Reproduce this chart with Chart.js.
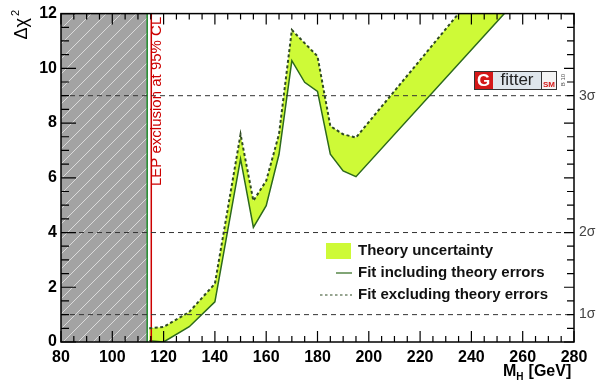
<!DOCTYPE html>
<html>
<head>
<meta charset="utf-8">
<script src="https://cdn.jsdelivr.net/npm/chart.js@4.4.1/dist/chart.umd.min.js"></script>
<style>
  html, body { margin: 0; padding: 0; background: #fff; }
  #wrap { width: 598px; height: 387px; position: relative; }
</style>
</head>
<body>
<div id="wrap"><canvas id="myChart"></canvas></div>
<script>
// M_H values (GeV) and delta chi2
const massPoints = [114.4, 120, 130, 140, 150, 155, 160, 165, 170, 175, 180, 185, 190, 195, 280];
const chi2WithTheory = [0.05, 0.0, 0.56, 1.47, 6.69, 4.19, 4.98, 6.86, 10.28, 9.49, 9.16, 6.86, 6.25, 6.04, 14.8];
const chi2NoTheory = [0.5, 0.55, 1.1, 2.13, 7.59, 5.16, 5.89, 7.6, 11.4, 10.92, 10.44, 7.89, 7.59, 7.47, 17.1];

const sigmaLevels = [1, 4, 9];
const sigmaLabels = ["1\u03c3", "2\u03c3", "3\u03c3"];
const lepLimit = 114.4;
const lepLineX = 115.2;
const excludedRange = [80, 113.6];
const xTicks = [80, 100, 120, 140, 160, 180, 200, 220, 240, 260, 280];
const yTicks = [0, 2, 4, 6, 8, 10, 12];

const bandColor = "rgb(206,250,55)";
const fitGreen = "#2d6a1c";
const dotColor = "#2f4a22";

// hatch pattern for the excluded region
function makeHatch() {
  const s = 15;
  const c = document.createElement("canvas");
  c.width = s; c.height = s;
  const g = c.getContext("2d");
  g.fillStyle = "#a3a3a3";
  g.fillRect(0, 0, s, s);
  g.strokeStyle = "rgba(225,225,225,0.9)";
  g.lineWidth = 1;
  g.beginPath();
  g.moveTo(0, s); g.lineTo(s, 0);
  g.moveTo(-1, 1); g.lineTo(1, -1);
  g.moveTo(s - 1, s + 1); g.lineTo(s + 1, s - 1);
  g.stroke();
  return g.createPattern(c, "repeat");
}

function pts(xs, ys) {
  return xs.map((x, i) => ({ x: x, y: ys[i] }));
}

const datasets = [];
sigmaLevels.forEach((lvl) => {
  datasets.push({
    data: [{ x: 80, y: lvl }, { x: 280, y: lvl }],
    borderColor: "#333",
    borderWidth: 1,
    borderDash: [5, 4],
    pointRadius: 0,
    fill: false,
    order: 1,
  });
});
// fit including theory errors, band filled up to the next dataset
datasets.push({
  data: pts(massPoints, chi2WithTheory),
  borderColor: fitGreen,
  borderWidth: 1.5,
  pointRadius: 0,
  fill: { target: "+1", above: bandColor, below: bandColor },
  order: 3,
  clip: 0,
});
datasets.push({
  data: pts(massPoints, chi2NoTheory),
  borderColor: dotColor,
  borderWidth: 2,
  borderDash: [3, 2.5],
  pointRadius: 0,
  fill: false,
  order: 2,
  clip: 0,
});
// green steep wall and red LEP line
datasets.push({
  data: [{ x: excludedRange[1], y: 0 }, { x: excludedRange[1], y: 12 }],
  borderColor: "#1e8a2a",
  borderWidth: 1.5,
  pointRadius: 0,
  fill: false,
  order: 2,
});
datasets.push({
  data: [{ x: lepLineX, y: 0 }, { x: lepLineX, y: 12 }],
  borderColor: "#cc0000",
  borderWidth: 1.5,
  pointRadius: 0,
  fill: false,
  order: 2,
});
datasets.push({
  data: [{ x: excludedRange[0], y: 12 }, { x: excludedRange[1], y: 12 }],
  borderWidth: 0,
  pointRadius: 0,
  backgroundColor: makeHatch(),
  fill: "origin",
  order: 10,
});

const decor = {
  id: "decor",
  afterDraw(chart) {
    const ctx = chart.ctx;
    const a = chart.chartArea;
    const xs = chart.scales.x, ys = chart.scales.y;
    const fam = "'Liberation Sans', Arial, sans-serif";
    ctx.save();
    // frame
    ctx.strokeStyle = "#000";
    ctx.lineWidth = 1.5;
    ctx.strokeRect(a.left, a.top, a.right - a.left, a.bottom - a.top);
    // ticks, pointing inwards
    ctx.lineWidth = 1.2;
    ctx.beginPath();
    for (let v = 80; v <= 280; v += 5) {
      const px = xs.getPixelForValue(v);
      const major = v % 20 === 0;
      const l = major ? 11 : 6;
      ctx.moveTo(px, a.bottom); ctx.lineTo(px, a.bottom - l);
      ctx.moveTo(px, a.top); ctx.lineTo(px, a.top + l);
    }
    for (let v = 0; v <= 12; v += 0.5) {
      const py = ys.getPixelForValue(v);
      const major = v % 2 === 0;
      ctx.moveTo(a.left, py); ctx.lineTo(a.left + (major ? 15 : 8), py);
      ctx.moveTo(a.right, py); ctx.lineTo(a.right - (major ? 10 : 7), py);
    }
    ctx.stroke();

    // sigma labels
    ctx.fillStyle = "#444";
    ctx.font = "14px " + fam;
    ctx.textAlign = "left";
    ctx.textBaseline = "middle";
    sigmaLevels.forEach((lvl, i) => {
      ctx.fillText(sigmaLabels[i], a.right + 5, ys.getPixelForValue(lvl));
    });

    // x title: M_H [GeV]
    ctx.fillStyle = "#000";
    ctx.textAlign = "left";
    ctx.textBaseline = "alphabetic";
    let tx = 503;
    ctx.font = "bold 16px " + fam;
    ctx.fillText("M", tx, 376);
    tx += ctx.measureText("M").width;
    ctx.font = "bold 10px " + fam;
    ctx.fillText("H", tx, 380);
    tx += ctx.measureText("H").width + 5;
    ctx.font = "bold 16px " + fam;
    ctx.fillText("[GeV]", tx, 376);

    // y title
    ctx.save();
    ctx.translate(27, 9);
    ctx.rotate(-Math.PI / 2);
    ctx.textAlign = "right";
    ctx.textBaseline = "alphabetic";
    ctx.font = "18px " + fam;
    ctx.fillText("\u0394\u03c7", -9, 0);
    ctx.font = "11px " + fam;
    ctx.fillText("2", -1, -8);
    ctx.restore();

    // LEP text
    ctx.save();
    ctx.translate(xs.getPixelForValue(lepLineX) + 6, 186);
    ctx.rotate(-Math.PI / 2);
    ctx.fillStyle = "#cc0000";
    ctx.font = "15px " + fam;
    ctx.textAlign = "left";
    ctx.textBaseline = "middle";
    ctx.fillText("LEP exclusion at 95% CL", 0, 0);
    ctx.restore();

    // legend
    ctx.fillStyle = bandColor;
    ctx.fillRect(326, 243, 25, 16);
    ctx.strokeStyle = fitGreen;
    ctx.lineWidth = 1.2;
    ctx.beginPath();
    ctx.moveTo(336, 273); ctx.lineTo(352, 273);
    ctx.stroke();
    ctx.strokeStyle = dotColor;
    ctx.setLineDash([2.5, 2.5]);
    ctx.beginPath();
    ctx.moveTo(320, 295); ctx.lineTo(352, 295);
    ctx.stroke();
    ctx.setLineDash([]);
    ctx.fillStyle = "#111";
    ctx.font = "bold 15px " + fam;
    ctx.textAlign = "left";
    ctx.textBaseline = "middle";
    ctx.fillText("Theory uncertainty", 358, 251);
    ctx.fillText("Fit including theory errors", 358, 273);
    ctx.fillText("Fit excluding theory errors", 358, 295);

    // Gfitter logo
    ctx.fillStyle = "#d41818";
    ctx.fillRect(474, 71, 19, 19);
    ctx.fillStyle = "#dfe6ec";
    ctx.fillRect(493, 71, 48, 19);
    ctx.fillStyle = "#f4f4f4";
    ctx.fillRect(541, 71, 16, 19);
    ctx.strokeStyle = "#333";
    ctx.lineWidth = 1;
    ctx.strokeRect(474.5, 71.5, 82, 18);
    ctx.beginPath();
    ctx.moveTo(541.5, 72); ctx.lineTo(541.5, 90);
    ctx.stroke();
    ctx.fillStyle = "#fff";
    ctx.font = "bold 17px " + fam;
    ctx.textAlign = "center";
    ctx.textBaseline = "middle";
    ctx.fillText("G", 483.5, 81);
    ctx.fillStyle = "#222";
    ctx.font = "17px " + fam;
    ctx.fillText("fitter", 517, 80);
    ctx.fillStyle = "#d41818";
    ctx.font = "bold 8px " + fam;
    ctx.fillText("SM", 549, 85);
    ctx.save();
    ctx.translate(563, 80);
    ctx.rotate(-Math.PI / 2);
    ctx.fillStyle = "#555";
    ctx.font = "6px " + fam;
    ctx.fillText("B 10", 0, 0);
    ctx.restore();
    ctx.restore();
  },
};

new Chart(document.getElementById("myChart"), {
  type: "line",
  data: { datasets: datasets },
  options: {
    responsive: true,
    maintainAspectRatio: false,
    animation: false,
    layout: { padding: { top: 12, right: 24, left: 0, bottom: 0 } },
    elements: { line: { tension: 0 } },
    plugins: { legend: { display: false }, tooltip: { enabled: false } },
    scales: {
      x: {
        type: "linear",
        min: 80,
        max: 280,
        afterFit: (s) => { s.height = 45; },
        afterBuildTicks: (s) => { s.ticks = xTicks.map((v) => ({ value: v })); },
        grid: { display: false, drawTicks: false },
        border: { display: false },
        ticks: {
          padding: 6,
          color: "#000",
          font: { family: "'Liberation Sans', Arial, sans-serif", size: 16, weight: "bold" },
          maxRotation: 0,
        },
      },
      y: {
        type: "linear",
        min: 0,
        max: 12,
        afterFit: (s) => { s.width = 61; },
        afterBuildTicks: (s) => { s.ticks = yTicks.map((v) => ({ value: v })); },
        grid: { display: false, drawTicks: false },
        border: { display: false },
        ticks: {
          padding: 4,
          color: "#000",
          font: { family: "'Liberation Sans', Arial, sans-serif", size: 16, weight: "bold" },
        },
      },
    },
  },
  plugins: [decor],
});
</script>
</body>
</html>
